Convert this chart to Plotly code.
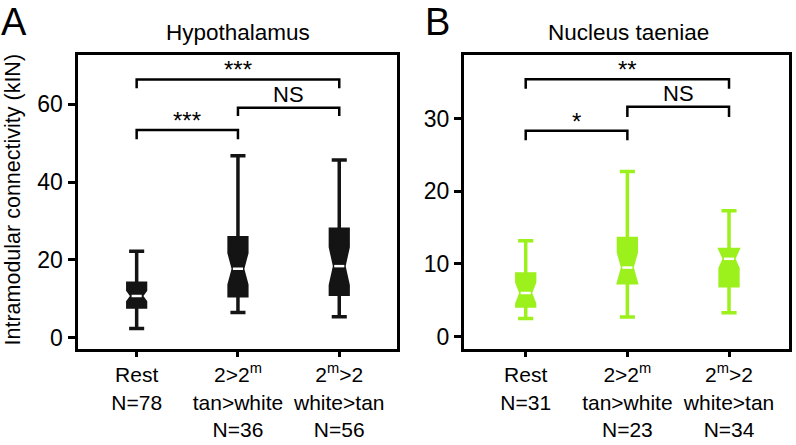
import plotly.graph_objects as go

# ---------------- data ----------------
categories = ["Rest<br>N=78", "2>2<sup>m</sup><br>tan>white<br>N=36", "2<sup>m</sup>>2<br>white>tan<br>N=56"]
categories_b = ["Rest<br>N=31", "2>2<sup>m</sup><br>tan>white<br>N=23", "2<sup>m</sup>>2<br>white>tan<br>N=34"]
positions = [0, 1, 2]

# Panel A: Hypothalamus
a_lower = [2.4, 6.5, 5.4]
a_q1 = [7.9, 10.8, 11.2]
a_median = [10.7, 17.7, 18.4]
a_q3 = [14.0, 25.7, 27.9]
a_upper = [22.2, 46.8, 45.7]
a_notch = [1.5, 4.1, 4.9]

# Panel B: Nucleus taeniae
b_lower = [2.5, 2.7, 3.3]
b_q1 = [4.2, 7.4, 7.0]
b_median = [6.0, 9.5, 10.7]
b_q3 = [8.6, 13.5, 12.0]
b_upper = [13.2, 22.7, 17.3]
b_notch = [1.5, 2.1, 1.3]

# significance brackets
br_left = [0, 1, 0]
br_right = [2, 2, 1]
a_br_y = [66.4, 59.1, 53.4]
a_br_end = [64.1, 57.0, 51.0]
a_br_label = ["***", "NS", "***"]
b_br_y = [35.4, 31.6, 28.3]
b_br_end = [34.1, 30.2, 27.0]
b_br_label = ["**", "NS", "*"]

a_ticks = [0, 20, 40, 60]
b_ticks = [0, 10, 20, 30]

color_a = "#141414"
color_b = "#9cf01c"
FONT = "Liberation Sans, Arial, sans-serif"

fig = go.Figure()

def add_box(name, xa, ya, lower, q1, med, q3, upper, notch, color):
    fig.add_trace(go.Box(
        x=positions, lowerfence=lower, q1=q1, median=med, q3=q3, upperfence=upper,
        notchspan=notch, notched=True, notchwidth=0.24, width=0.175, whiskerwidth=0.85,
        fillcolor=color, line=dict(color=color, width=3.5), boxpoints=False,
        xaxis=xa, yaxis=ya, name=name, showlegend=False, hoverinfo="skip"))
    # white median marks on top of the boxes
    mx, my = [], []
    for p, m in zip(positions, med):
        mx += [p - 0.05, p + 0.05, None]
        my += [m, m, None]
    fig.add_trace(go.Scatter(x=mx, y=my, mode="lines", line=dict(color="white", width=2.5),
                             xaxis=xa, yaxis=ya, showlegend=False, hoverinfo="skip"))

add_box("A", "x", "y", a_lower, a_q1, a_median, a_q3, a_upper, a_notch, color_a)
add_box("B", "x2", "y2", b_lower, b_q1, b_median, b_q3, b_upper, b_notch, color_b)

shapes = []
annotations = []
for xr, yr, ys, ends, labels in (("x", "y", a_br_y, a_br_end, a_br_label),
                                 ("x2", "y2", b_br_y, b_br_end, b_br_label)):
    for l, r, y, e, lab in zip(br_left, br_right, ys, ends, labels):
        shapes.append(dict(type="path", xref=xr, yref=yr,
                           path=f"M {l},{e} L {l},{y} L {r},{y} L {r},{e}",
                           line=dict(color="black", width=2.5)))
        star = "*" in lab
        annotations.append(dict(xref=xr, yref=yr, x=(l + r) / 2, y=y, text=lab,
                                showarrow=False, xanchor="center", yanchor="bottom",
                                yshift=-6 if star else -1,
                                font=dict(family=FONT, size=24 if star else 22, color="black")))

# titles / labels
def paper_text(x, y, text, size, angle=0):
    return dict(xref="paper", yref="paper", x=x / 796, y=1 - y / 445, text=text,
                textangle=angle, showarrow=False, xanchor="center", yanchor="middle",
                font=dict(family=FONT, size=size, color="black"))

annotations += [
    paper_text(238, 32, "Hypothalamus", 22.5),
    paper_text(628, 32, "Nucleus taeniae", 22.5),
    paper_text(13.5, 22, "A", 38),
    paper_text(437.5, 21.5, "B", 38),
    paper_text(12, 199.5, "Intramodular connectivity (kIN)", 21.5, -90),
]

ydom = [1 - 349 / 445, 1 - 54.5 / 445]
axis_common = dict(showline=True, mirror=True, linewidth=3, linecolor="black",
                   showgrid=False, zeroline=False, ticks="outside", tickwidth=2.5,
                   tickcolor="black", automargin=False)

fig.update_layout(
    template="none",
    width=796, height=445,
    margin=dict(l=0, r=0, t=0, b=0, pad=0),
    paper_bgcolor="white", plot_bgcolor="white",
    font=dict(family=FONT, color="black"),
    showlegend=False,
    xaxis=dict(domain=[77.5 / 796, 397 / 796], range=[-0.584, 2.57], anchor="y",
               tickvals=positions, ticktext=categories, ticklen=5,
               tickfont=dict(family=FONT, size=21, color="black"), **axis_common),
    yaxis=dict(domain=ydom, range=[-2.9, 72.8], anchor="x", tickvals=a_ticks, ticklen=7,
               tickfont=dict(family=FONT, size=23, color="black"), **axis_common),
    xaxis2=dict(domain=[464 / 796, 789.3 / 796], range=[-0.607, 2.593], anchor="y2",
                tickvals=positions, ticktext=categories_b, ticklen=5,
                tickfont=dict(family=FONT, size=21, color="black"), **axis_common),
    yaxis2=dict(domain=ydom, range=[-1.7, 38.8], anchor="x2", tickvals=b_ticks, ticklen=7,
                tickfont=dict(family=FONT, size=23, color="black"), **axis_common),
    shapes=shapes,
    annotations=annotations,
)

fig.write_html("out.html", config={"displayModeBar": False},
               post_script="document.body.style.margin='0px';document.body.style.padding='0px';")
